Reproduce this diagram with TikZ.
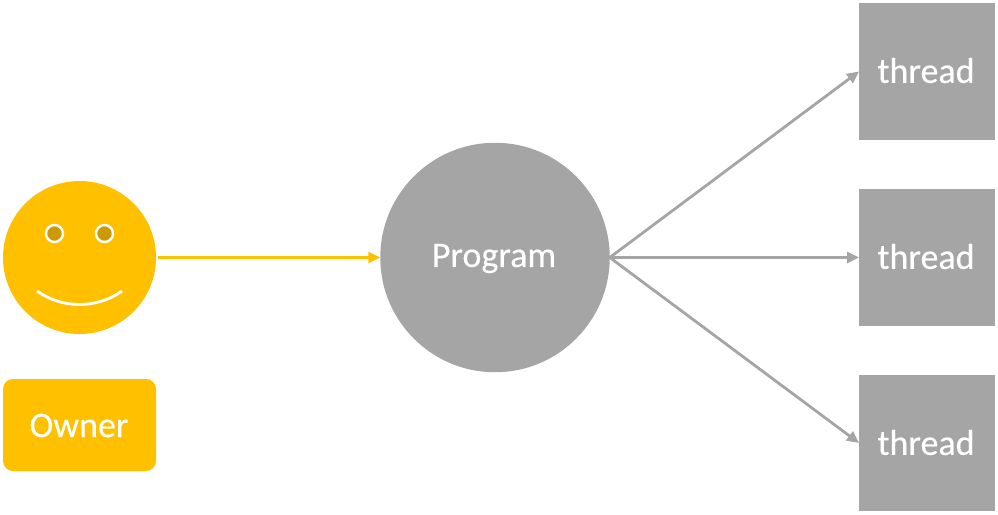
\documentclass[tikz,border=0pt]{standalone}
\usepackage{fontspec}
\setmainfont[FakeBold=0.25]{Carlito}
\usetikzlibrary{arrows.meta}
\definecolor{gold}{HTML}{FFC000}
\definecolor{darkgold}{HTML}{CC9A06}
\definecolor{grayf}{HTML}{A5A5A5}
\begin{document}
\begin{tikzpicture}[x=1pt,y=-1pt,
  every node/.style={inner sep=0pt,outer sep=0pt},
  face/.style={circle,fill=gold,minimum size=153pt},
  prog/.style={circle,fill=grayf,minimum size=229.5pt},
  threadbox/.style={rectangle,fill=grayf,minimum width=136pt,minimum height=136.5pt},
  ownerbox/.style={rectangle,rounded corners=10pt,fill=gold,minimum width=153pt,minimum height=92pt},
  lab/.style={text=white,font=\fontsize{36}{40}\selectfont,anchor=center},
  eye/.style={circle,draw=white,line width=2.4pt,fill=darkgold,minimum size=17pt},
  conn/.style={line width=2.8pt,-{Triangle[length=12pt,width=11pt]}},
]
\useasboundingbox (0,0) rectangle (998,514);
\node[face] (f) at (79.5,257.5) {};
\node[eye] (e1) at (54.5,233.5) {};
\node[eye] (e2) at (104.5,233.5) {};
\coordinate (mL) at (37,291);
\coordinate (mR) at (122,291);
\draw[white,line width=2.8pt] (mL) .. controls (62,309) and (97,309) .. (mR);
\node[ownerbox] (o) at (79.5,425) {};
\node[lab] (ol) at (79,425.5) {Owner};
\node[prog] (p) at (495,257.5) {};
\node[lab] (pl) at (494,258.5) {Program};
\node[threadbox] (t1) at (927,71.5) {};
\node[threadbox] (t2) at (927,257.5) {};
\node[threadbox] (t3) at (927,443) {};
\node[lab] (l1) at (926,70.5) {thread};
\node[lab] (l2) at (926,256.5) {thread};
\node[lab] (l3) at (926,442.5) {thread};
\draw[conn,gold] (f.east) ++(2,0) -- (p.west);
\draw[conn,grayf] (p.east) -- (t1.west);
\draw[conn,grayf] (p.east) -- (t2.west);
\draw[conn,grayf] (p.east) -- (t3.west);
\end{tikzpicture}
\end{document}
